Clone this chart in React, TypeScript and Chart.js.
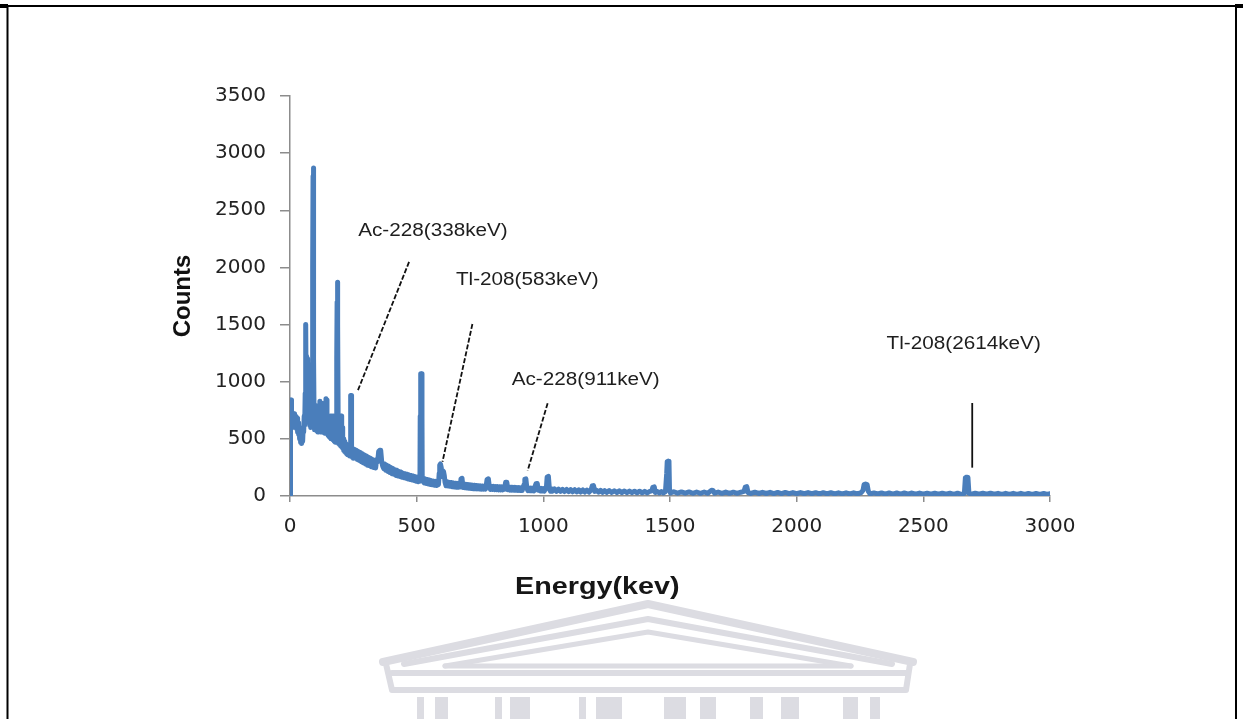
import React, { useEffect, useRef } from 'react';
import { Chart, registerables } from 'chart.js';

Chart.register(...registerables);

// ---- Spectrum: [energy (keV), counts] ----
const spectrumLow: [number, number][] = [
  [0, 0], [2, 830], [4, 840], [6, 620], [8, 700], [10, 600], [12, 700], [14, 610], [16, 720], [18, 620], [20, 700],
  [22, 600], [24, 690], [26, 590], [28, 680], [30, 560], [32, 640], [34, 540], [36, 600], [38, 500], [40, 560],
  [42, 470], [44, 520], [46, 460], [48, 520], [50, 480], [52, 600], [54, 560], [56, 700], [58, 620], [60, 900],
  [61, 1200], [62, 1500], [63, 1500], [64, 800], [65, 1200], [66, 700], [67, 1220], [68, 720], [69, 1200], [70, 700],
  [72, 1150], [74, 650], [76, 800], [78, 620], [80, 780], [82, 600], [84, 760], [86, 620], [88, 820], [89, 1100],
  [90, 2000], [91, 2800], [92, 2870], [93, 2860], [94, 1200], [95, 700], [96, 800], [98, 580], [100, 760], [102, 580],
  [104, 760], [106, 570], [108, 700], [110, 560], [112, 720], [114, 560], [116, 800], [118, 830], [120, 560],
  [122, 760], [124, 560], [126, 700], [128, 560], [130, 810], [132, 560], [134, 700], [136, 550], [138, 720],
  [140, 560], [142, 850], [144, 840], [146, 560], [148, 700], [150, 530], [152, 680], [154, 520], [156, 680],
  [158, 510], [160, 700], [162, 500], [164, 700], [166, 500], [168, 680], [170, 490], [172, 700], [174, 480],
  [176, 640], [178, 470], [180, 620], [182, 480], [184, 700], [185, 1200], [186, 1700], [187, 1870], [188, 1870],
  [189, 1500], [190, 700], [192, 460], [194, 700], [196, 450], [198, 690], [200, 440], [202, 700], [204, 430],
  [206, 600], [208, 420], [210, 500], [212, 400], [214, 480], [216, 390], [218, 460], [220, 380], [222, 450],
  [224, 370], [226, 440], [228, 360], [230, 430], [232, 360], [234, 420], [236, 350], [238, 420], [239, 700],
  [240, 880], [241, 880], [242, 860], [243, 600], [244, 400], [246, 340], [248, 400], [250, 330],
];

const spectrumMid: [number, number][] = [
  [254, 410], [258, 330], [262, 400], [266, 320], [270, 390], [274, 310], [278, 380], [282, 300], [286, 370],
  [290, 290], [294, 360], [298, 280], [302, 350], [306, 270], [310, 340], [314, 265], [318, 330], [322, 255],
  [326, 320], [330, 250], [334, 310], [338, 245], [342, 320], [346, 300], [350, 390], [354, 400], [358, 400],
  [362, 300], [366, 260], [370, 240], [374, 280], [378, 225], [382, 270], [386, 215], [390, 260], [394, 205],
  [398, 250], [402, 195], [406, 240], [410, 190], [414, 230], [418, 180], [422, 225], [426, 175], [430, 215],
  [434, 170], [438, 210], [442, 165], [446, 200], [450, 160], [454, 195], [458, 155], [462, 190], [466, 150],
  [470, 185], [474, 145], [478, 180], [482, 140], [486, 175], [490, 135], [494, 170], [498, 130], [502, 165],
  [506, 125], [510, 160], [513, 130], [514, 700], [516, 1070], [519, 1070], [521, 700], [522, 130], [526, 155],
  [530, 115], [534, 150], [538, 110], [542, 145], [546, 105], [550, 140], [554, 100], [558, 135], [562, 98],
  [566, 130], [570, 95], [574, 128], [578, 92], [582, 125], [586, 100], [589, 200], [591, 270], [594, 280],
  [597, 250], [600, 170], [603, 220], [606, 215], [609, 180], [612, 120], [616, 90], [620, 125], [624, 88],
  [628, 120], [632, 85], [636, 118], [640, 82], [644, 115], [648, 80], [652, 112], [656, 78], [660, 110],
  [664, 76], [668, 108], [672, 80], [675, 150], [679, 155], [683, 75], [687, 105], [691, 72], [695, 102],
  [699, 70], [703, 100], [707, 68], [711, 98], [715, 66], [719, 96], [723, 65], [727, 94], [731, 64], [735, 92],
  [739, 62], [743, 90], [747, 62], [751, 88], [755, 60], [759, 88], [763, 60], [767, 86], [771, 60], [775, 100],
  [778, 145], [783, 150], [787, 80], [791, 58], [795, 85], [799, 57], [803, 84], [807, 56], [811, 83], [815, 55],
  [819, 82], [823, 54], [827, 81], [831, 54], [835, 80], [839, 53], [843, 80], [847, 60], [851, 120], [856, 120],
  [860, 55], [864, 78], [868, 52], [872, 77], [876, 51], [880, 76], [884, 50], [888, 75], [892, 50], [896, 74],
  [900, 49], [904, 73], [908, 48], [912, 72], [916, 48], [920, 72], [924, 100], [927, 148], [931, 150], [935, 70],
  [939, 47], [943, 70], [947, 46], [951, 69], [955, 46], [959, 68], [963, 45], [967, 80], [971, 108], [976, 110],
  [980, 50], [984, 67], [988, 44], [992, 66], [996, 44], [1000, 65], [1004, 43], [1008, 64], [1012, 70],
  [1015, 165], [1020, 172], [1024, 60], [1028, 42], [1032, 63],
];

const spectrumHigh: [number, number][] = [
  [1036, 42], [1044, 62], [1052, 41], [1060, 60], [1068, 40], [1076, 58], [1084, 39], [1092, 57], [1100, 38],
  [1108, 56], [1116, 37], [1124, 55], [1132, 36], [1140, 54], [1148, 35], [1156, 53], [1164, 35], [1172, 52],
  [1180, 34], [1188, 51], [1193, 88], [1198, 92], [1203, 40], [1210, 50], [1218, 33], [1226, 49], [1234, 32],
  [1242, 48], [1250, 32], [1260, 47], [1270, 31], [1280, 46], [1290, 30], [1300, 45], [1310, 30], [1320, 44],
  [1330, 29], [1340, 43], [1350, 29], [1360, 42], [1370, 28], [1380, 42], [1390, 28], [1400, 41], [1410, 27],
  [1420, 40], [1428, 45], [1432, 76], [1438, 80], [1442, 30], [1450, 40], [1458, 27], [1466, 39], [1474, 26],
  [1482, 38], [1487, 200], [1489, 300], [1493, 305], [1496, 300], [1498, 60], [1502, 26], [1515, 37], [1530, 25],
  [1545, 36], [1560, 25], [1575, 36], [1590, 24], [1605, 35], [1620, 24], [1635, 35], [1650, 24], [1658, 40],
  [1664, 50], [1670, 48], [1676, 25], [1690, 34], [1705, 23], [1720, 34], [1735, 23], [1750, 33], [1765, 23],
  [1780, 33], [1792, 40], [1797, 78], [1803, 82], [1808, 30], [1820, 22], [1835, 33], [1850, 22], [1865, 32],
  [1880, 22], [1895, 32], [1910, 21], [1925, 31], [1940, 21], [1955, 31], [1970, 21], [1985, 30], [2000, 20],
  [2015, 30], [2030, 20], [2045, 30], [2060, 20], [2075, 29], [2090, 19], [2105, 29], [2120, 19], [2135, 29],
  [2150, 19], [2165, 28], [2180, 19], [2195, 28], [2210, 18], [2225, 28], [2240, 18], [2255, 30], [2262, 50],
  [2266, 100], [2272, 105], [2278, 100], [2283, 40], [2290, 18], [2305, 27], [2320, 18], [2335, 27], [2350, 17],
  [2365, 27], [2380, 17], [2395, 26], [2410, 17], [2425, 26], [2440, 17], [2455, 26], [2470, 16], [2485, 26],
  [2500, 16], [2515, 25], [2530, 16], [2545, 25], [2560, 16], [2575, 25], [2590, 16], [2605, 25], [2620, 15],
  [2635, 25], [2650, 15], [2662, 24], [2666, 160], [2671, 165], [2676, 162], [2680, 24], [2690, 15], [2705, 24],
  [2720, 15], [2735, 24], [2750, 15], [2765, 24], [2780, 15], [2795, 23], [2810, 14], [2825, 23], [2840, 14],
  [2855, 23], [2870, 14], [2885, 23], [2900, 14], [2915, 22], [2930, 14], [2945, 22], [2960, 14], [2975, 22],
  [2990, 14], [3000, 20],
];

const xTickValues = [0, 500, 1000, 1500, 2000, 2500, 3000];
const yTickValues = [0, 500, 1000, 1500, 2000, 2500, 3000, 3500];

const xAxisTitle = 'Energy(kev)';
const yAxisTitle = 'Counts';

// annotation labels (text anchor and leader lines in data units)
const annotationLabels = ['Ac-228(338keV)', 'Tl-208(583keV)', 'Ac-228(911keV)', 'Tl-208(2614keV)'];
const annotationTextE = [269, 655, 875, 2355];
const annotationTextC = [2319, 1890, 1015, 1330];
const leaderFromE = [470, 720, 1017, 2693];
const leaderFromC = [2048, 1505, 811, 814];
const leaderToE = [266, 602, 938, 2693];
const leaderToC = [913, 300, 221, 248];
const leaderDashed = [true, true, true, false];

const decorPlugin = {
  id: 'decor',
  beforeDraw(chart: any) {
    const ctx = chart.ctx as CanvasRenderingContext2D;
    const W = chart.width;
    const H = chart.height;
    ctx.save();
    ctx.fillStyle = '#ffffff';
    ctx.fillRect(0, 0, W, H);

    // page frame
    ctx.strokeStyle = '#000';
    ctx.lineWidth = 2;
    ctx.beginPath();
    ctx.moveTo(0, 6);
    ctx.lineTo(W, 6);
    ctx.moveTo(7.5, 6);
    ctx.lineTo(7.5, H);
    ctx.moveTo(W - 7, 6);
    ctx.lineTo(W - 7, H);
    ctx.stroke();
    ctx.lineWidth = 4;
    ctx.beginPath();
    ctx.moveTo(0, 6);
    ctx.lineTo(8, 6);
    ctx.moveTo(W - 8, 6);
    ctx.lineTo(W, 6);
    ctx.stroke();

    // faint building watermark
    const wm = '#dcdce2';
    ctx.strokeStyle = wm;
    ctx.fillStyle = wm;
    ctx.lineJoin = 'round';
    ctx.lineCap = 'round';
    const chevron = (lx: number, ly: number, ax: number, ay: number, rx: number, ry: number, w: number) => {
      ctx.lineWidth = w;
      ctx.beginPath();
      ctx.moveTo(lx, ly);
      ctx.lineTo(ax, ay);
      ctx.lineTo(rx, ry);
      ctx.stroke();
    };
    chevron(383, 662, 648, 604, 913, 662, 8);
    chevron(404, 664, 648, 619, 892, 664, 6);
    chevron(445, 666, 648, 632, 851, 666, 5);
    ctx.lineWidth = 5;
    ctx.beginPath();
    ctx.moveTo(445, 666);
    ctx.lineTo(851, 666);
    ctx.stroke();
    ctx.lineWidth = 6;
    ctx.beginPath();
    ctx.moveTo(392, 673);
    ctx.lineTo(906, 673);
    ctx.moveTo(392, 690);
    ctx.lineTo(906, 690);
    ctx.moveTo(386, 664);
    ctx.lineTo(392, 690);
    ctx.moveTo(910, 664);
    ctx.lineTo(906, 690);
    ctx.stroke();
    const cols: [number, number][] = [
      [417, 7], [435, 13], [495, 7], [510, 20], [579, 7], [596, 26], [664, 22], [700, 16],
      [750, 13], [781, 18], [843, 15], [870, 10],
    ];
    cols.forEach(([x, w]) => ctx.fillRect(x, 697, w, 22));
    ctx.restore();
  },
  afterDatasetsDraw(chart: any) {
    const ctx = chart.ctx as CanvasRenderingContext2D;
    const xs = chart.scales.x;
    const ys = chart.scales.y;
    ctx.save();
    // leader lines
    ctx.strokeStyle = '#111';
    ctx.lineWidth = 1.8;
    annotationLabels.forEach((_, i) => {
      ctx.setLineDash(leaderDashed[i] ? [5, 2] : []);
      ctx.beginPath();
      ctx.moveTo(xs.getPixelForValue(leaderFromE[i]), ys.getPixelForValue(leaderFromC[i]));
      ctx.lineTo(xs.getPixelForValue(leaderToE[i]), ys.getPixelForValue(leaderToC[i]));
      ctx.stroke();
    });
    ctx.setLineDash([]);
    // annotation text
    ctx.fillStyle = '#1e1e1e';
    ctx.font = '18px "Liberation Sans", Arial, sans-serif';
    ctx.textAlign = 'left';
    ctx.textBaseline = 'middle';
    annotationLabels.forEach((t, i) => {
      ctx.save();
      ctx.translate(xs.getPixelForValue(annotationTextE[i]), ys.getPixelForValue(annotationTextC[i]));
      ctx.scale(1.15, 1);
      ctx.fillText(t, 0, 0);
      ctx.restore();
    });
    // x axis title
    const area = chart.chartArea;
    ctx.font = 'bold 23px "Liberation Sans", Arial, sans-serif';
    ctx.fillStyle = '#161616';
    ctx.save();
    ctx.translate(area.left + 225, area.bottom + 92);
    ctx.scale(1.25, 1);
    ctx.fillText(xAxisTitle, 0, 0);
    ctx.restore();
    ctx.restore();
  },
};

export default function App() {
  const ref = useRef<HTMLCanvasElement>(null);

  useEffect(() => {
    if (!ref.current) return;
    const tickFont = { family: '"DejaVu Sans", Verdana, sans-serif', size: 20 };
    const points = [...spectrumLow, ...spectrumMid, ...spectrumHigh].map(([e, c]) => ({ x: e, y: c }));
    const chart = new Chart(ref.current, {
      type: 'line',
      data: {
        datasets: [
          {
            label: 'Counts',
            data: points,
            borderColor: '#4a7ebb',
            backgroundColor: '#4a7ebb',
            borderWidth: 5,
            pointRadius: 0,
            tension: 0,
            fill: false,
            borderJoinStyle: 'round',
            borderCapStyle: 'round',
          },
        ],
      },
      options: {
        responsive: false,
        animation: false,
        devicePixelRatio: 1,
        layout: { padding: { left: 169, top: 96, right: 193, bottom: 0 } },
        plugins: {
          legend: { display: false },
          tooltip: { enabled: false },
          title: { display: false },
        },
        scales: {
          x: {
            type: 'linear',
            min: xTickValues[0],
            max: xTickValues[xTickValues.length - 1],
            afterFit: (s: any) => {
              s.height = 223;
            },
            afterBuildTicks: (s: any) => {
              s.ticks = xTickValues.map((v) => ({ value: v }));
            },
            ticks: {
              padding: 13,
              font: tickFont,
              color: '#222',
              maxRotation: 0,
              autoSkip: false,
              callback: (v: any) => String(v),
            },
            grid: { drawOnChartArea: false, drawTicks: true, tickLength: 6, color: '#8c8c8c', lineWidth: 1.5 },
            border: { display: true, color: '#8c8c8c', width: 1.5 },
          },
          y: {
            type: 'linear',
            min: yTickValues[0],
            max: yTickValues[yTickValues.length - 1],
            afterFit: (s: any) => {
              s.width = 121;
            },
            afterBuildTicks: (s: any) => {
              s.ticks = yTickValues.map((v) => ({ value: v }));
            },
            ticks: {
              padding: 14,
              font: tickFont,
              color: '#222',
              autoSkip: false,
              callback: (v: any) => String(v),
            },
            grid: { drawOnChartArea: false, drawTicks: true, tickLength: 10, color: '#8c8c8c', lineWidth: 1.5 },
            border: { display: true, color: '#8c8c8c', width: 1.5 },
            title: {
              display: true,
              text: yAxisTitle,
              color: '#111',
              padding: 0,
              font: { family: '"Liberation Sans", Arial, sans-serif', size: 24, weight: 'bold' },
            },
          },
        },
      },
      plugins: [decorPlugin],
    } as any);
    return () => chart.destroy();
  }, []);

  return (
    <div style={{ position: 'fixed', left: 0, top: 0, width: 1243, height: 719, background: '#fff' }}>
      <canvas ref={ref} width={1243} height={719} style={{ display: 'block', width: 1243, height: 719 }} />
    </div>
  );
}
